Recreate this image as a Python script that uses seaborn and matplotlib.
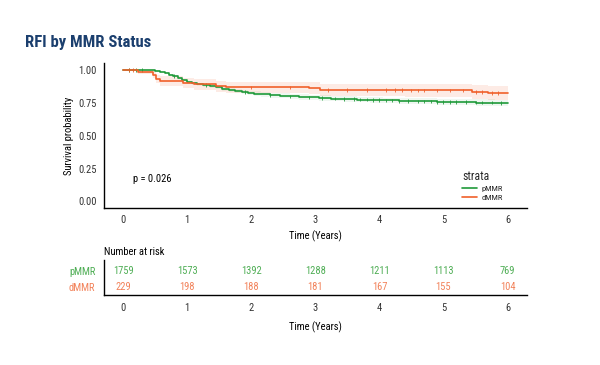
import numpy as np
import pandas as pd
import matplotlib
matplotlib.use("Agg")
import matplotlib.pyplot as plt
from matplotlib.lines import Line2D
import seaborn as sns

# ---------------- data ----------------
groups = ["pMMR", "dMMR"]

pmmr_t = [0, 0.42, 0.5, 0.58, 0.65, 0.72, 0.78, 0.85, 0.92, 1.0, 1.08, 1.15, 1.25, 1.35,
          1.45, 1.55, 1.65, 1.75, 1.85, 1.95, 2.05, 2.15, 2.3, 2.45, 2.6, 2.75, 2.9, 3.05,
          3.25, 3.45, 3.65, 3.85, 4.05, 4.3, 4.6, 4.9, 5.2, 5.5, 5.8, 6.0]
pmmr_s = [1.0, 0.996, 0.992, 0.986, 0.975, 0.963, 0.952, 0.938, 0.922, 0.906, 0.898, 0.891,
          0.883, 0.875, 0.866, 0.857, 0.848, 0.839, 0.831, 0.824, 0.818, 0.813, 0.807, 0.802,
          0.798, 0.794, 0.79, 0.786, 0.781, 0.777, 0.773, 0.77, 0.767, 0.763, 0.76, 0.757,
          0.754, 0.751, 0.749, 0.748]
pmmr_lo = [1.0, 0.993, 0.988, 0.981, 0.969, 0.956, 0.944, 0.929, 0.912, 0.895, 0.886, 0.879,
           0.87, 0.861, 0.852, 0.842, 0.832, 0.823, 0.814, 0.807, 0.8, 0.795, 0.788, 0.783,
           0.779, 0.774, 0.77, 0.766, 0.76, 0.756, 0.752, 0.748, 0.745, 0.741, 0.737, 0.734,
           0.731, 0.727, 0.725, 0.724]
pmmr_hi = [1.0, 0.999, 0.996, 0.991, 0.981, 0.97, 0.96, 0.947, 0.932, 0.917, 0.91, 0.903,
           0.896, 0.889, 0.88, 0.872, 0.864, 0.855, 0.848, 0.841, 0.836, 0.831, 0.826, 0.821,
           0.817, 0.814, 0.81, 0.806, 0.802, 0.798, 0.794, 0.792, 0.789, 0.785, 0.783, 0.78,
           0.777, 0.775, 0.773, 0.772]

dmmr_t = [0, 0.24, 0.47, 0.52, 0.58, 0.93, 1.1, 1.45, 1.6, 2.9, 3.08, 3.5, 4.4, 5.45, 5.7, 6.0]
dmmr_s = [1.0, 0.983, 0.96, 0.93, 0.915, 0.90, 0.888, 0.875, 0.866, 0.86, 0.848, 0.846,
          0.843, 0.83, 0.822, 0.822]
dmmr_lo = [1.0, 0.966, 0.935, 0.898, 0.88, 0.862, 0.848, 0.833, 0.823, 0.815, 0.802, 0.799,
           0.795, 0.78, 0.77, 0.77]
dmmr_hi = [1.0, 1.0, 0.985, 0.962, 0.951, 0.939, 0.929, 0.918, 0.91, 0.905, 0.895, 0.893,
           0.891, 0.882, 0.876, 0.876]

pmmr_cens = [0.1, 0.2, 0.3, 0.8, 1.3, 1.9, 2.3, 2.6, 2.9, 3.1, 3.3, 3.45, 3.6, 3.7, 3.8, 3.9,
             4.0, 4.1, 4.2, 4.3, 4.45, 4.6, 4.7, 4.8, 4.9, 5.0, 5.1, 5.2, 5.35, 5.5, 5.6,
             5.75, 5.9]
dmmr_cens = [0.1, 0.15, 2.0, 2.6, 3.2, 3.5, 3.8, 4.1, 4.25, 4.35, 4.5, 4.6, 4.7, 4.9, 5.1,
             5.3, 5.5, 5.6, 5.75, 5.85]

risk_times = [0, 1, 2, 3, 4, 5, 6]
risk_pmmr = [1759, 1573, 1392, 1288, 1211, 1113, 769]
risk_dmmr = [229, 198, 188, 181, 167, 155, 104]

y_ticks = [0.00, 0.25, 0.50, 0.75, 1.00]
p_value = "p = 0.026"

# ---------------- style ----------------
sns.set_theme(style="white")
FONT = ["Roboto Condensed", "DejaVu Sans"]
plt.rcParams["font.family"] = FONT

green = "#1f9a3a"
orange = "#f0602a"
green_txt = "#4fae55"
orange_txt = "#f2825a"
tick_col = "#333333"
FS = 7.6

fig = plt.figure(figsize=(6.0, 3.65), dpi=100)
ax = fig.add_axes([0.173, 0.430, 0.705, 0.397])
axr = fig.add_axes([0.173, 0.192, 0.705, 0.096])

# curves
curve_df = pd.concat([
    pd.DataFrame({"t": pmmr_t, "s": pmmr_s, "g": "pMMR"}),
    pd.DataFrame({"t": dmmr_t, "s": dmmr_s, "g": "dMMR"}),
])
ax.fill_between(pmmr_t, pmmr_lo, pmmr_hi, step="post", color=green, alpha=0.07, lw=0)
ax.fill_between(dmmr_t, dmmr_lo, dmmr_hi, step="post", color=orange, alpha=0.12, lw=0)
sns.lineplot(data=curve_df, x="t", y="s", hue="g", hue_order=groups,
             palette=[green, orange], estimator=None, sort=False,
             drawstyle="steps-post", lw=1.2, ax=ax, legend=False)


def step_val(ts, ss, x):
    i = np.searchsorted(ts, x, side="right") - 1
    return np.asarray(ss)[i]


cens_df = pd.concat([
    pd.DataFrame({"t": pmmr_cens, "s": step_val(pmmr_t, pmmr_s, pmmr_cens), "g": "pMMR"}),
    pd.DataFrame({"t": dmmr_cens, "s": step_val(dmmr_t, dmmr_s, dmmr_cens), "g": "dMMR"}),
])
sns.scatterplot(data=cens_df, x="t", y="s", hue="g", hue_order=groups,
                palette=[green, orange], marker="|", s=7, linewidth=0.6,
                ax=ax, legend=False)

ax.set_xlim(-0.3, 6.3)
ax.set_ylim(-0.05, 1.05)
ax.set_xticks(risk_times)
ax.set_yticks(y_ticks)
ax.set_yticklabels([f"{v:.2f}" for v in y_ticks])
ax.set_xlabel("Time (Years)", fontsize=FS, color="black", labelpad=4)
ax.set_ylabel("Survival probability", fontsize=FS, color="black", labelpad=3)
ax.tick_params(axis="both", labelsize=FS, colors=tick_col, length=3, width=0.8,
               direction="out", pad=2)
for side in ["top", "right"]:
    ax.spines[side].set_visible(False)
for side in ["left", "bottom"]:
    ax.spines[side].set_color("black")
    ax.spines[side].set_linewidth(1.0)
ax.text(0.16, 0.167, p_value, fontsize=FS, color="black", ha="left", va="center")

handles = [Line2D([0], [0], color=green, lw=1.2), Line2D([0], [0], color=orange, lw=1.2)]
leg = ax.legend(handles, groups, title="strata", loc="lower left",
                bbox_to_anchor=(0.83, 0.0), frameon=False, fontsize=6,
                title_fontsize=8.5, handlelength=1.8, handletextpad=0.5,
                labelspacing=0.25)
leg._legend_box.align = "left"

# risk table
rows = [(1, risk_pmmr, green_txt), (0, risk_dmmr, orange_txt)]
for yv, vals, col in rows:
    for t, v in zip(risk_times, vals):
        axr.text(t, yv, str(v), ha="center", va="center", fontsize=FS, color=col)
axr.set_xlim(-0.3, 6.3)
axr.set_ylim(-0.5, 1.69)
axr.set_xticks(risk_times)
axr.set_yticks([1, 0])
axr.set_yticklabels(groups, fontsize=FS)
for lbl, col in zip(axr.get_yticklabels(), [green_txt, orange_txt]):
    lbl.set_color(col)
axr.tick_params(axis="x", labelsize=FS, colors=tick_col, length=3, width=0.8, pad=3)
axr.tick_params(axis="y", length=3, width=0.8, color=tick_col, pad=3)
axr.set_xlabel("Time (Years)", fontsize=FS, color="black", labelpad=6)
for side in ["top", "right"]:
    axr.spines[side].set_visible(False)
for side in ["left", "bottom"]:
    axr.spines[side].set_color("black")
    axr.spines[side].set_linewidth(1.0)
fig.text(104 / 600, 1 - 252 / 365, "Number at risk", fontsize=FS, color="black",
         ha="left", va="center")

fig.text(25 / 600, 1 - 42 / 365, "RFI by MMR Status", fontsize=12, fontweight="bold",
         color="#1b3f6e", ha="left", va="center")

fig.savefig("out.png", dpi=100, facecolor="white")
